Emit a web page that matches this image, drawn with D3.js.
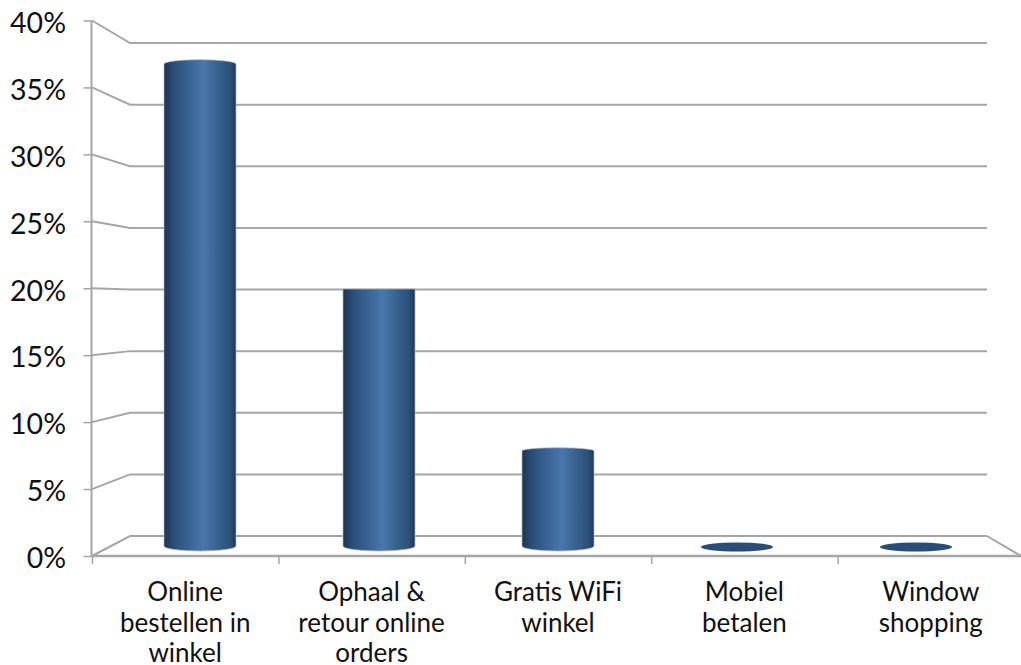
<!DOCTYPE html>
<html>
<head>
<meta charset="utf-8">
<script src="https://d3js.org/d3.v7.min.js"></script>
<style>
html,body{margin:0;padding:0;background:#fff;overflow:hidden}
text{font-family:Lato,"Open Sans",sans-serif;fill:#111}
</style>
</head>
<body>
<svg id="chart" width="1021" height="665"></svg>
<script>
const categories = [["Online","bestellen in","winkel"],["Ophaal &","retour online","orders"],["Gratis WiFi","winkel"],["Mobiel","betalen"],["Window","shopping"]];
const shares = [37.5, 20, 7.4, 0, 0];
const tickValues = [0,5,10,15,20,25,30,35,40];

const svg = d3.select("#chart");
const grid = "#a6a6a6";

// Three depth planes of the 3D box: front wall, mid-depth (bars), back wall.
const yFront = d3.scaleLinear().domain([0,40]).range([556,20.5]);
const yBack  = d3.scaleLinear().domain([0,40]).range([536,43]);
const yBar   = d3.scaleLinear().domain([0,40]).range([546,32]);
const xBand  = d3.scaleBand().domain(d3.range(categories.length)).range([92,1024]);
const xBar   = d3.scalePoint().domain(d3.range(categories.length)).range([200,916]);

// Cylinder shading
const defs = svg.append("defs");
const grad = defs.append("linearGradient").attr("id","cyl").attr("x1",0).attr("x2",1).attr("y1",0).attr("y2",0);
[[0,"#1d3553"],[0.12,"#2a4b75"],[0.3,"#365f90"],[0.55,"#4a76ab"],[0.75,"#37628f"],[0.92,"#2b4f78"],[1,"#1f3957"]]
  .forEach(([o,c]) => grad.append("stop").attr("offset",o).attr("stop-color",c));

// Back wall and side wall gridlines
const g = svg.append("g").attr("fill","none").attr("stroke",grid).attr("stroke-width",2);
tickValues.forEach(v => {
  g.append("path").attr("d", d3.line()([[92,yFront(v)],[130,yBack(v)],[987,yBack(v)]]));
});
// Floor: right edge back to front
g.append("path").attr("d", d3.line()([[987,yBack(0)],[1021,yFront(0)]]));

// Front axes
const yAxis = d3.axisLeft(yFront).tickValues(tickValues).tickSize(8).tickPadding(5).tickFormat(d => d + "%");
const ya = svg.append("g").attr("transform","translate(91.5,0)").call(yAxis);
ya.select(".domain").attr("stroke",grid).attr("stroke-width",2).attr("d",`M0,${yFront(40)}V${yFront(0)}`);
ya.selectAll(".tick line").attr("stroke",grid).attr("stroke-width",1.5);
ya.selectAll("text").attr("font-size",28.5).attr("dy","0.36em").attr("y",1.5).attr("x",-25.5);

svg.append("line").attr("x1",91).attr("x2",1021).attr("y1",yFront(0)).attr("y2",yFront(0)).attr("stroke",grid).attr("stroke-width",2.5);
xBand.domain().forEach(i => {
  const x = xBand(i) + 0.5;
  svg.append("line").attr("x1",x).attr("x2",x).attr("y1",yFront(0)).attr("y2",yFront(0)+8).attr("stroke",grid).attr("stroke-width",1.5);
});

// Category labels
const labels = svg.append("g").attr("text-anchor","middle").attr("font-size",26);
categories.forEach((lines,i) => {
  const x = xBand(i) + xBand.bandwidth()/2;
  lines.forEach((t,j) => labels.append("text").attr("x",x).attr("y",601+j*30.5).text(t));
});

// Cylinders: cap curvature follows the distance from the eye level at 20%
const rx = 36;
const capRy = y => Math.abs(y - yBar(20)) / 257 * 5;
shares.forEach((v,i) => {
  const cx = xBar(i);
  const y0 = yBar(0), y1 = yBar(v);
  if (v === 0) {
    svg.append("ellipse").attr("cx",cx).attr("cy",y0+1).attr("rx",rx).attr("ry",4.5).attr("fill","#2a4c78");
    return;
  }
  const r0 = 5, r1 = capRy(y1);
  svg.append("path").attr("fill","url(#cyl)")
    .attr("stroke","#b4b4b4").attr("stroke-opacity",0.7).attr("stroke-width",1)
    .attr("d",`M${cx-rx},${y1}A${rx},${r1} 0 0 1 ${cx+rx},${y1}V${y0}A${rx},${r0} 0 0 1 ${cx-rx},${y0}Z`);
});
</script>
</body>
</html>
